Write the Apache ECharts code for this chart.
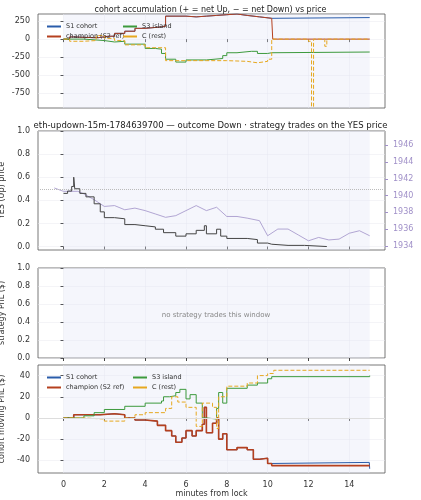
<!DOCTYPE html>
<html>
<head>
<meta charset="utf-8">
<script src="https://cdn.jsdelivr.net/npm/echarts@6/dist/echarts.min.js"></script>
<style>html,body{margin:0;padding:0;background:#fff}#chart{width:421px;height:500px}</style>
</head>
<body>
<div id="chart"></div>
<script>
// panel 1: accumulated net YES shares
const accChampion = [[0,0],[0.3,30],[0.5,20],[1.5,20],[1.7,40],[2.2,40],[2.5,80],[3,110],[3.5,150],[4,170],[4.8,180],[5,320],[6,310],[6.5,320],[7,330],[7.5,340],[8,350],[8.5,330],[9,310],[9.6,290],[10.2,300],[10.25,0],[15,0]];
const accS1 = [[0,0],[0.3,30],[0.5,20],[1.5,20],[1.7,40],[2.2,40],[2.5,80],[3,110],[3.5,150],[4,170],[4.8,180],[5,320],[6,310],[6.5,320],[7,330],[7.5,340],[8,350],[8.5,330],[9,310],[9.6,290],[10.2,300],[15,300]];
const accS3 = [[0,0],[1,-20],[2,-40],[2.5,-30],[3,-70],[4,-130],[4.5,-140],[4.8,-200],[5,-280],[5.5,-320],[6,-290],[7,-270],[7.8,-230],[8,-190],[8.5,-170],[9.2,-170],[9.5,-200],[10,-190],[10.2,-180],[15,-180]];
const accRest = [[0,0],[0.3,-30],[1,-20],[1.6,50],[2,10],[2.5,-20],[3,-80],[4,-120],[5,-300],[6,-300],[7,-300],[8,-310],[9,-330],[9.5,-310],[10,-280],[10.2,0],[12,-30],[12.15,-940],[12.25,0],[12.8,-100],[12.9,0],[15,0]];

// panel 2: YES price and ETH/USD
const yesPrice = [[0,0.46],[0.2,0.48],[0.4,0.52],[0.5,0.6],[0.55,0.5],[0.8,0.46],[1.1,0.43],[1.5,0.37],[1.8,0.3],[2,0.25],[2.5,0.24],[3,0.19],[3.5,0.18],[4,0.17],[4.5,0.15],[4.9,0.12],[5.5,0.09],[6,0.11],[6.5,0.14],[6.9,0.18],[7,0.11],[7.5,0.15],[7.7,0.09],[8,0.07],[9,0.06],[9.5,0.03],[10,0.02],[10.2,0.01],[11,0.01],[11.8,0],[12.9,0]];
const ethUsd = [[-0.45,1940.9],[0,1940.5],[0.7,1940.5],[1,1940.2],[1.5,1939.5],[2,1938.7],[2.5,1938.8],[3,1938.3],[3.5,1938.5],[4,1938.2],[4.5,1937.8],[5,1937.4],[5.5,1937.6],[6,1938.2],[6.5,1938.8],[7,1938.2],[7.5,1938.6],[8,1937.5],[8.5,1937.5],[9,1937.3],[9.6,1937],[10,1935.2],[10.5,1936],[11,1936],[11.5,1935.3],[12,1934.6],[12.5,1935],[13,1934.7],[13.5,1934.8],[14,1935.5],[14.5,1935.8],[15,1935.2]];

// panel 4: cohort moving PnL
const pnlChampion = [[0,0],[0.5,3],[1.2,3],[1.8,4],[2.5,3],[3,0],[3.5,-2],[4,-3],[4.6,-7],[5,-12],[5.3,-17],[5.5,-23],[5.8,-19],[6,-12],[6.3,-17],[6.5,-12],[6.8,-6],[6.9,10],[7,-14],[7.3,-5],[7.5,0],[7.6,-20],[7.8,-15],[8,-30],[8.5,-28],[9,-30],[9.3,-39],[9.6,-38],[10,-43],[10.2,-45],[15,-45]];
const pnlS1 = [[0,0],[0.5,3],[1.2,3],[1.8,4],[2.5,3],[3,0],[3.5,-2],[4,-3],[4.6,-7],[5,-12],[5.3,-17],[5.5,-23],[5.8,-19],[6,-12],[6.3,-17],[6.5,-12],[6.8,-6],[6.9,10],[7,-14],[7.3,-5],[7.5,0],[7.6,-20],[7.8,-15],[8,-30],[8.5,-28],[9,-30],[9.3,-39],[9.6,-38],[10,-43],[10.2,-42],[14.98,-42],[15,-48]];
const pnlS3 = [[0,0],[1,2],[1.5,5],[2,8],[3,11],[4,14],[4.8,16],[4.9,20],[5.2,21],[5.5,24],[5.7,27],[6,18],[6.2,22],[6.5,14],[6.8,0],[7,-1],[7.5,9],[7.6,24],[7.8,14],[8,28],[9,31],[9.5,33],[10,37],[10.2,39],[15,40]];
const pnlRest = [[0,0],[0.5,0],[1,-1],[2,-3],[3,0],[3.5,3],[4,5],[5,9],[5.3,20],[5.6,15],[6,10],[6.5,-8],[6.8,14],[7.3,10],[7.5,-10],[7.6,20],[8,30],[9,33],[9.5,40],[10,42],[10.3,45],[15,45]];

const xTicks = [0, 2, 4, 6, 8, 10, 12, 14];

const BLUE = '#2a5caa', RED = '#b5401f', GREEN = '#3d9a3d', ORANGE = '#e6a820', PURPLE = '#a090c8';
const font = 'DejaVu Sans';
const grids = [
  { left: 38, right: 36, top: 14, height: 94 },
  { left: 38, right: 36, top: 131, height: 119 },
  { left: 38, right: 36, top: 268, height: 90 },
  { left: 38, right: 36, top: 365, height: 108 }
];

const chart = echarts.init(document.getElementById('chart'));

function xAxis(i, labels) {
  return {
    type: 'value', gridIndex: i, min: -1.25, max: 15.75,
    axisLine: { show: false }, axisTick: { show: true, customValues: xTicks, length: 3, lineStyle: { color: '#444' } },
    axisLabel: { show: labels, customValues: xTicks, fontSize: 8, color: '#333', fontFamily: font },
    splitLine: { show: true, customValues: xTicks, lineStyle: { color: '#e8e8ee', width: 0.5 } },
    name: labels ? 'minutes from lock' : '', nameLocation: 'middle', nameGap: 16,
    nameTextStyle: { fontSize: 8, color: '#333', fontFamily: font }
  };
}
function yAxis(i, opts) {
  return Object.assign({
    type: 'value', gridIndex: i, nameLocation: 'middle',
    axisLine: { show: false }, axisTick: { show: true, length: 3 },
    axisLabel: { fontSize: 8, color: '#333', fontFamily: font },
    splitLine: { show: true, lineStyle: { color: '#e8e8ee', width: 0.5 } },
    nameTextStyle: { fontSize: 8, color: '#333', fontFamily: font }
  }, opts);
}
function line(name, data, x, y, color, extra) {
  return Object.assign({
    name, type: 'line', step: 'end', data, xAxisIndex: x, yAxisIndex: y,
    symbol: 'none', lineStyle: { color, width: 1 }, itemStyle: { color }, animation: false
  }, extra || {});
}
const shade = { silent: true, itemStyle: { color: 'rgba(225,230,245,0.35)' }, data: [[{ xAxis: 0 }, { xAxis: 15 }]] };
const legendBase = { orient: 'vertical', itemWidth: 14, itemHeight: 2, itemGap: 3, icon: 'rect',
  textStyle: { fontSize: 6.5, color: '#333', fontFamily: font }, selectedMode: false };

chart.setOption({
  backgroundColor: '#fff',
  animation: false,
  title: [
    { text: 'cohort accumulation (+ = net Up, − = net Down) vs price', left: 'center', top: 1, textStyle: { fontSize: 8, fontWeight: 'normal', color: '#222', fontFamily: font } },
    { text: 'eth-updown-15m-1784639700 — outcome Down · strategy trades on the YES price', left: 'center', top: 116, textStyle: { fontSize: 8.5, fontWeight: 'normal', color: '#222', fontFamily: font } },
    { text: 'no strategy trades this window', left: 211, top: 307, textAlign: 'center', textStyle: { fontSize: 7, fontWeight: 'normal', color: '#888', fontFamily: font } }
  ],
  grid: grids.map(g => Object.assign({ show: true, borderColor: '#555', borderWidth: 0.8, backgroundColor: '#fff', containLabel: false, outerBoundsMode: 'none' }, g)),
  legend: [
    Object.assign({ data: ['S1 cohort', 'champion (S2 ref)'], left: 42, top: 18 }, legendBase),
    Object.assign({ data: ['S3 island', 'C (rest)'], left: 118, top: 18 }, legendBase),
    Object.assign({ data: ['S1 cohort', 'champion (S2 ref)'], left: 42, top: 369 }, legendBase),
    Object.assign({ data: ['S3 island', 'C (rest)'], left: 128, top: 369 }, legendBase)
  ],
  xAxis: [xAxis(0, false), xAxis(1, false), xAxis(2, false), xAxis(3, true)],
  yAxis: [
    yAxis(0, { min: -960, max: 350, axisLabel: { fontSize: 8, color: '#333', fontFamily: font, customValues: [-750, -500, -250, 0, 250] },
      axisTick: { show: true, length: 3, customValues: [-750, -500, -250, 0, 250] },
      splitLine: { show: true, customValues: [-750, -500, -250, 0, 250], lineStyle: { color: '#e8e8ee', width: 0.5 } },
      name: 'acc. net YES (shares)', nameGap: 26 }),
    yAxis(1, { min: -0.03, max: 1.0, axisLabel: { fontSize: 8, color: '#333', fontFamily: font, customValues: [0, 0.2, 0.4, 0.6, 0.8, 1.0], formatter: v => v.toFixed(1) },
      axisTick: { show: true, length: 3, customValues: [0, 0.2, 0.4, 0.6, 0.8, 1.0] },
      splitLine: { show: true, customValues: [0, 0.2, 0.4, 0.6, 0.8, 1.0], lineStyle: { color: '#e8e8ee', width: 0.5 } },
      name: 'YES (Up) price', nameGap: 22 }),
    yAxis(1, { position: 'right', min: 1933.5, max: 1947.7, splitLine: { show: false },
      axisLabel: { fontSize: 8, color: PURPLE, fontFamily: font, customValues: [1934, 1936, 1938, 1940, 1942, 1944, 1946], formatter: v => String(v) },
      axisTick: { show: true, length: 3, customValues: [1934, 1936, 1938, 1940, 1942, 1944, 1946], lineStyle: { color: PURPLE } },
      name: 'ETH/USD (strike dotted = YES 0.5)', nameGap: 28, nameRotate: 90, nameTextStyle: { fontSize: 6.5, color: PURPLE, fontFamily: font } }),
    yAxis(2, { min: 0, max: 1, interval: 0.2, axisLabel: { fontSize: 8, color: '#333', fontFamily: font, formatter: v => v.toFixed(1) },
      name: 'strategy PnL ($)', nameGap: 22 }),
    yAxis(3, { min: -52, max: 50, axisLabel: { fontSize: 8, color: '#333', fontFamily: font, customValues: [-40, -20, 0, 20, 40] },
      axisTick: { show: true, length: 3, customValues: [-40, -20, 0, 20, 40] },
      splitLine: { show: true, customValues: [-40, -20, 0, 20, 40], lineStyle: { color: '#e8e8ee', width: 0.5 } },
      name: 'cohort moving PnL ($)', nameGap: 22 })
  ],
  series: [
    line('S1 cohort', accS1, 0, 0, BLUE, { markArea: shade }),
    line('champion (S2 ref)', accChampion, 0, 0, RED),
    line('S3 island', accS3, 0, 0, GREEN),
    line('C (rest)', accRest, 0, 0, ORANGE, { lineStyle: { color: ORANGE, width: 1, type: 'dashed' } }),
    line('eth', ethUsd, 1, 2, PURPLE, { step: false, lineStyle: { color: PURPLE, width: 0.8 }, markArea: shade }),
    line('yes', yesPrice, 1, 1, '#444', { lineStyle: { color: '#444', width: 1 },
      markLine: { silent: true, symbol: 'none', label: { show: false }, lineStyle: { color: '#bbb', type: 'dotted', width: 1 }, data: [{ yAxis: 0.5 }] } }),
    { type: 'line', xAxisIndex: 2, yAxisIndex: 3, data: [], markArea: shade },
    line('S1 cohort', pnlS1, 3, 4, BLUE, { markArea: shade,
      markLine: { silent: true, symbol: 'none', label: { show: false }, lineStyle: { color: '#ddd', type: 'solid', width: 1 }, data: [{ yAxis: 0 }] } }),
    line('champion (S2 ref)', pnlChampion, 3, 4, RED, { lineStyle: { color: RED, width: 1.6 } }),
    line('S3 island', pnlS3, 3, 4, GREEN),
    line('C (rest)', pnlRest, 3, 4, ORANGE, { lineStyle: { color: ORANGE, width: 1, type: 'dashed' } })
  ]
});
</script>
</body>
</html>
